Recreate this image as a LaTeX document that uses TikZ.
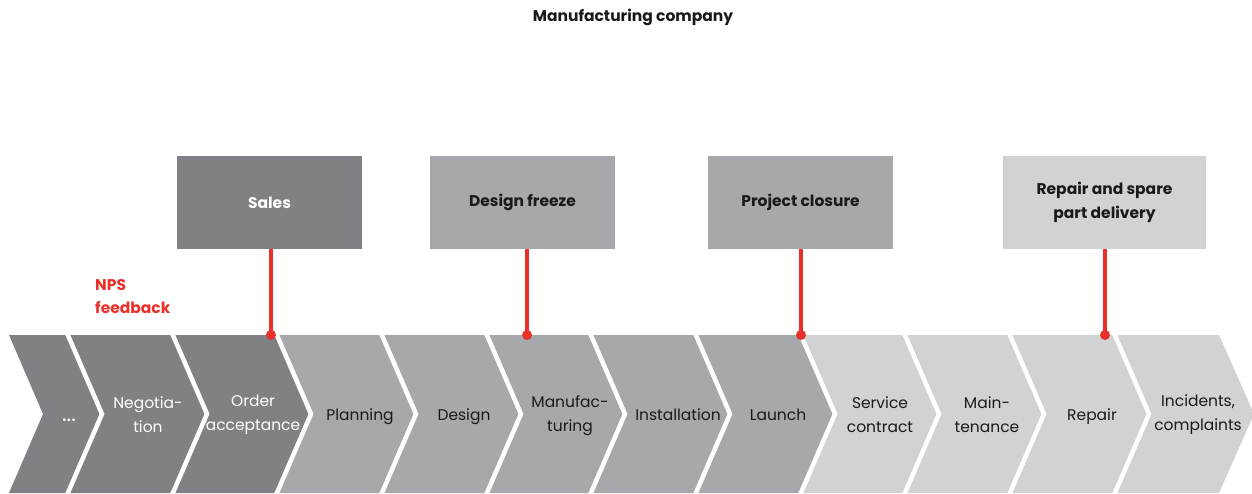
\documentclass[tikz,border=0pt]{standalone}
\usepackage{fontspec}
\setmainfont{Poppins}
\definecolor{cdark}{HTML}{808185}
\definecolor{cmid}{HTML}{A7A8AB}
\definecolor{clight}{HTML}{D1D2D4}
\definecolor{cred}{HTML}{E8312A}
\definecolor{ctext}{HTML}{1A1A1A}
\tikzset{
  lbl/.style={align=center, inner sep=0pt, font=\fontsize{15.5}{24}\selectfont},
  lbldark/.style={lbl, text=white},
  lbllight/.style={lbl, text=ctext},
  one/.style={anchor=base},
  gate/.style={minimum width=185pt, minimum height=93pt, inner sep=0pt, align=center,
     font=\bfseries\fontsize{15.5}{24}\selectfont},
  gap/.style={draw=white, line width=4.5pt, line join=miter},
  redline/.style={draw=cred, line width=3.5pt},
  dot/.style={circle, fill=cred, minimum size=10pt, inner sep=0pt}
}
\begin{document}
\begin{tikzpicture}[x=1pt,y=-1pt]
\useasboundingbox (0,0) rectangle (1252,493);
% chevron band
\def\d{35}
\fill[cdark] (9,335) -- (67,335) -- (67+\d,414) -- (67,493) -- (9,493) -- (9+34,414) -- cycle;
\foreach \L/\R/\c in {67/172/cdark, 172/276/cdark, 276/381/cmid, 381/486/cmid, 486/590/cmid,
  590/695/cmid, 695/800/cmid, 800/904/clight, 904/1009/clight, 1009/1114/clight, 1114/1219/clight}
  {\fill[\c] (\L,335) -- (\R,335) -- (\R+\d,414) -- (\R,493) -- (\L,493) -- (\L+\d,414) -- cycle;}
\foreach \b in {67,172,276,381,486,590,695,800,904,1009,1114}
  {\draw[gap] (\b,333) -- (\b+\d,414) -- (\b,495);}
% chevron labels
\node[lbldark, one, font=\fontsize{22}{24}\selectfont] (c1) at (69,421) {...};
\node[lbldark] (c2) at (148,414.5) {Negotia-\\tion};
\node[lbldark] (c3) at (253,414.5) {Order\\acceptance};
\node[lbllight, one] (c4) at (360,420.5) {Planning};
\node[lbllight, one] (c5) at (464,420.5) {Design};
\node[lbllight] (c6) at (570,416) {Manufac-\\turing};
\node[lbllight, one] (c7) at (678,420.5) {Installation};
\node[lbllight, one] (c8) at (778,420.5) {Launch};
\node[lbllight] (c9) at (880,414.5) {Service\\contract};
\node[lbllight] (c10) at (987,414.5) {Main-\\tenance};
\node[lbllight, one] (c11) at (1092,420.5) {Repair};
\node[lbllight] (c12) at (1198,414.5) {Incidents,\\complaints};
% title
\node[font=\bfseries\fontsize{15.5}{18}\selectfont, text=ctext, inner sep=0pt] (title) at (633,17) {Manufacturing company};
% gate boxes
\node[gate, fill=cdark, text=white] (g1) at (269.5,202.5) {Sales};
\node[gate, fill=cmid, text=ctext] (g2) at (522.5,202.5) {Design freeze};
\node[gate, fill=cmid, text=ctext] (g3) at (800.5,202.5) {Project closure};
\node[gate, fill=clight, text=ctext, minimum width=203pt] (g4) at (1104.5,202.5) {Repair and spare\\part delivery};
% dots and red connectors
\node[dot] (d1) at (271,335) {};
\node[dot] (d2) at (527,335) {};
\node[dot] (d3) at (801,335) {};
\node[dot] (d4) at (1105,335) {};
\draw[redline] (g1.south -| d1) -- (d1.center);
\draw[redline] (g2.south -| d2) -- (d2.center);
\draw[redline] (g3.south -| d3) -- (d3.center);
\draw[redline] (g4.south -| d4) -- (d4.center);
% NPS feedback
\node[anchor=base west, align=left, inner sep=0pt, text=cred, font=\bfseries\fontsize{15.5}{23}\selectfont] (nps) at (95,290) {NPS};
\node[anchor=base west, align=left, inner sep=0pt, text=cred, font=\bfseries\fontsize{15.5}{23}\selectfont] (nps2) at (95,313) {feedback};
\end{tikzpicture}
\end{document}
